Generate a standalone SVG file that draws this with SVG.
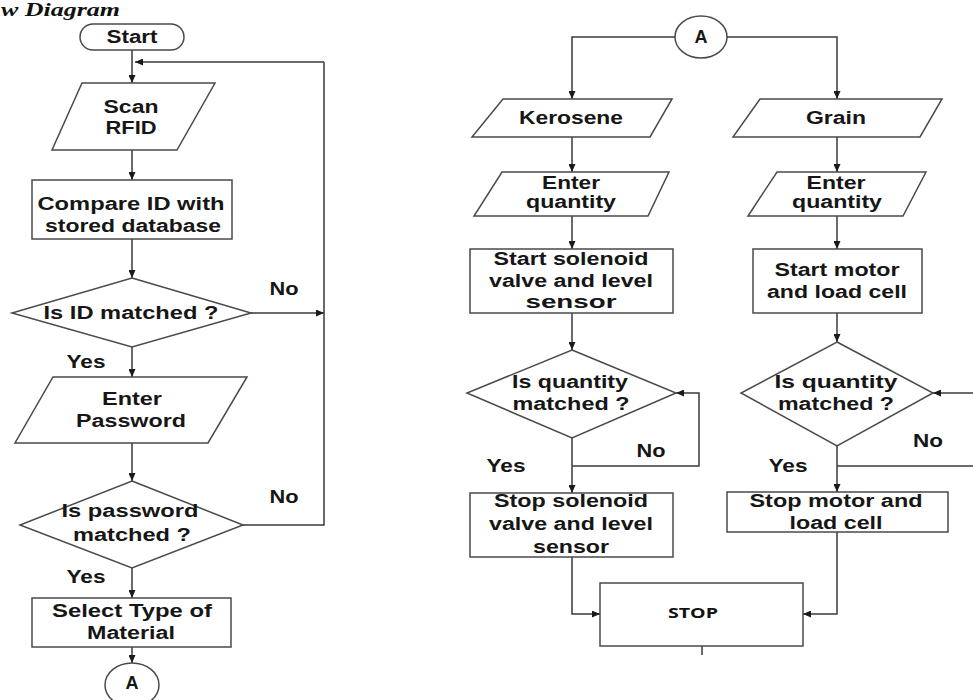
<svg xmlns="http://www.w3.org/2000/svg" width="973" height="700" viewBox="0 0 973 700">
<defs>
<marker id="ah" viewBox="0 0 8 7" refX="8" refY="3.5" markerWidth="8" markerHeight="7" markerUnits="userSpaceOnUse" orient="auto">
<path d="M0,0 L8,3.5 L0,7 z" fill="#1a1a1a"/>
</marker>
<style>
.s{fill:#fff;stroke:#4a4a4a;stroke-width:1.5}
.t{font-family:"Liberation Sans",Arial,sans-serif;font-weight:bold;font-size:18px;fill:#161616;text-anchor:middle}
.c{fill:none;stroke:#3a3a3a;stroke-width:1.5}
.a{marker-end:url(#ah)}
</style>
</defs>
<rect width="973" height="700" fill="#fff"/>
<text x="1" y="16" textLength="119" lengthAdjust="spacingAndGlyphs" style="font-family:'Liberation Serif','Times New Roman',serif;font-weight:bold;font-style:italic;font-size:18px;fill:#111">w Diagram</text>

<g id="connectors">
<path class="c a" d="M132,50 V83"/>
<path class="c a" d="M324,62 H135"/>
<path class="c a" d="M132,150 V180"/>
<path class="c a" d="M132,239 V278"/>
<path class="c a" d="M251,313 H324"/>
<path class="c a" d="M132,347 V377"/>
<path class="c a" d="M132,443 V481"/>
<path class="c" d="M243,525 H324 V62"/>
<path class="c a" d="M132,568 V598"/>
<path class="c a" d="M132,647 V663"/>
<path class="c a" d="M675,37 H572 V99"/>
<path class="c a" d="M727,37 H837 V99"/>
<path class="c a" d="M572,137 V172"/>
<path class="c a" d="M837,137 V172"/>
<path class="c a" d="M572,216 V249"/>
<path class="c a" d="M837,216 V249"/>
<path class="c a" d="M572,313 V350"/>
<path class="c a" d="M837,313 V342"/>
<path class="c a" d="M572,438 V493"/>
<path class="c a" d="M572,466 H699 V393 H676"/>
<path class="c a" d="M837,446 V492"/>
<path class="c" d="M975,466 H837"/>
<path class="c a" d="M975,393 H933"/>
<path class="c a" d="M572,557 V614 H600"/>
<path class="c a" d="M837,532 V614 H803"/>
<path class="c" d="M702,646 V655"/>
</g>

<g id="start">
<rect class="s" x="80" y="24" width="104" height="26" rx="13"/>
<text class="t" x="132" y="43" textLength="51" lengthAdjust="spacingAndGlyphs">Start</text>
</g>
<g id="scan">
<polygon class="s" points="82,83 215,83 177,150 52,150"/>
<text class="t" x="131" y="113" textLength="55" lengthAdjust="spacingAndGlyphs">Scan</text>
<text class="t" x="131" y="134" textLength="51" lengthAdjust="spacingAndGlyphs">RFID</text>
</g>
<g id="compare">
<rect class="s" x="32" y="180" width="200" height="59"/>
<text class="t" x="131" y="210" textLength="187" lengthAdjust="spacingAndGlyphs">Compare ID with</text>
<text class="t" x="133" y="232" textLength="176" lengthAdjust="spacingAndGlyphs">stored database</text>
</g>
<g id="id-matched">
<polygon class="s" points="132,278 251,313 132,347 12,313"/>
<text class="t" x="131" y="319" textLength="175" lengthAdjust="spacingAndGlyphs">Is ID matched ?</text>
</g>
<g id="password">
<polygon class="s" points="53,377 247,377 208,443 15,443"/>
<text class="t" x="132" y="405" textLength="60" lengthAdjust="spacingAndGlyphs">Enter</text>
<text class="t" x="131" y="427" textLength="110" lengthAdjust="spacingAndGlyphs">Password</text>
</g>
<g id="pw-matched">
<polygon class="s" points="132,481 243,525 132,568 20,525"/>
<text class="t" x="130" y="517" textLength="137" lengthAdjust="spacingAndGlyphs">Is password</text>
<text class="t" x="132" y="541" textLength="118" lengthAdjust="spacingAndGlyphs">matched ?</text>
</g>
<g id="select">
<rect class="s" x="32" y="598" width="199" height="49"/>
<text class="t" x="132" y="617" textLength="160" lengthAdjust="spacingAndGlyphs">Select Type of</text>
<text class="t" x="131" y="639" textLength="88" lengthAdjust="spacingAndGlyphs">Material</text>
</g>
<g id="conn-a1">
<ellipse class="s" cx="132" cy="685" rx="27" ry="22"/>
<text class="t" x="132" y="689">A</text>
</g>
<g id="labels-left">
<text class="t" x="284" y="295" textLength="29" lengthAdjust="spacingAndGlyphs">No</text>
<text class="t" x="86" y="368" textLength="39" lengthAdjust="spacingAndGlyphs">Yes</text>
<text class="t" x="284" y="503" textLength="29" lengthAdjust="spacingAndGlyphs">No</text>
<text class="t" x="86" y="583" textLength="39" lengthAdjust="spacingAndGlyphs">Yes</text>
</g>

<g id="conn-a2">
<ellipse class="s" cx="701" cy="37" rx="26" ry="21"/>
<text class="t" x="701" y="43">A</text>
</g>
<g id="kerosene">
<polygon class="s" points="503,99 672,99 650,137 472,137"/>
<text class="t" x="571" y="124" textLength="104" lengthAdjust="spacingAndGlyphs">Kerosene</text>
</g>
<g id="grain">
<polygon class="s" points="760,99 942,99 920,137 733,137"/>
<text class="t" x="836" y="124" textLength="60" lengthAdjust="spacingAndGlyphs">Grain</text>
</g>
<g id="qty-left">
<polygon class="s" points="502,172 669,172 648,216 474,216"/>
<text class="t" x="571" y="189" textLength="58" lengthAdjust="spacingAndGlyphs">Enter</text>
<text class="t" x="571" y="208" textLength="90" lengthAdjust="spacingAndGlyphs">quantity</text>
</g>
<g id="qty-right">
<polygon class="s" points="777,172 926,172 903,216 748,216"/>
<text class="t" x="836" y="189" textLength="59" lengthAdjust="spacingAndGlyphs">Enter</text>
<text class="t" x="837" y="208" textLength="90" lengthAdjust="spacingAndGlyphs">quantity</text>
</g>
<g id="start-solenoid">
<rect class="s" x="470" y="249" width="203" height="64"/>
<text class="t" x="571" y="265" textLength="155" lengthAdjust="spacingAndGlyphs">Start solenoid</text>
<text class="t" x="571" y="287" textLength="164" lengthAdjust="spacingAndGlyphs">valve and level</text>
<text class="t" x="571" y="308" textLength="91" lengthAdjust="spacingAndGlyphs">sensor</text>
</g>
<g id="start-motor">
<rect class="s" x="753" y="249" width="169" height="64"/>
<text class="t" x="837" y="276" textLength="125" lengthAdjust="spacingAndGlyphs">Start motor</text>
<text class="t" x="837" y="298" textLength="140" lengthAdjust="spacingAndGlyphs">and load cell</text>
</g>
<g id="qm-left">
<polygon class="s" points="572,350 676,393 572,438 467,393"/>
<text class="t" x="570" y="388" textLength="116" lengthAdjust="spacingAndGlyphs">Is quantity</text>
<text class="t" x="571" y="410" textLength="117" lengthAdjust="spacingAndGlyphs">matched ?</text>
</g>
<g id="qm-right">
<polygon class="s" points="837,342 933,393 837,446 741,393"/>
<text class="t" x="836" y="388" textLength="123" lengthAdjust="spacingAndGlyphs">Is  quantity</text>
<text class="t" x="836" y="410" textLength="116" lengthAdjust="spacingAndGlyphs">matched ?</text>
</g>
<g id="stop-solenoid">
<rect class="s" x="470" y="493" width="203" height="64"/>
<text class="t" x="571" y="507" textLength="154" lengthAdjust="spacingAndGlyphs">Stop solenoid</text>
<text class="t" x="571" y="530" textLength="164" lengthAdjust="spacingAndGlyphs">valve and level</text>
<text class="t" x="571" y="553" textLength="76" lengthAdjust="spacingAndGlyphs">sensor</text>
</g>
<g id="stop-motor">
<rect class="s" x="727" y="492" width="221" height="40"/>
<text class="t" x="836" y="507" textLength="173" lengthAdjust="spacingAndGlyphs">Stop motor and</text>
<text class="t" x="836" y="529" textLength="93" lengthAdjust="spacingAndGlyphs">load cell</text>
</g>
<g id="stop">
<rect class="s" x="600" y="583" width="203" height="63"/>
<text x="693" y="618" textLength="50" lengthAdjust="spacingAndGlyphs" style="font-family:'Open Sans','Liberation Sans',sans-serif;font-weight:bold;font-size:15px;fill:#111;text-anchor:middle">STOP</text>
</g>
<g id="labels-right">
<text class="t" x="651" y="457" textLength="29" lengthAdjust="spacingAndGlyphs">No</text>
<text class="t" x="506" y="472" textLength="39" lengthAdjust="spacingAndGlyphs">Yes</text>
<text class="t" x="928" y="447" textLength="30" lengthAdjust="spacingAndGlyphs">No</text>
<text class="t" x="788" y="472" textLength="39" lengthAdjust="spacingAndGlyphs">Yes</text>
</g>
</svg>
